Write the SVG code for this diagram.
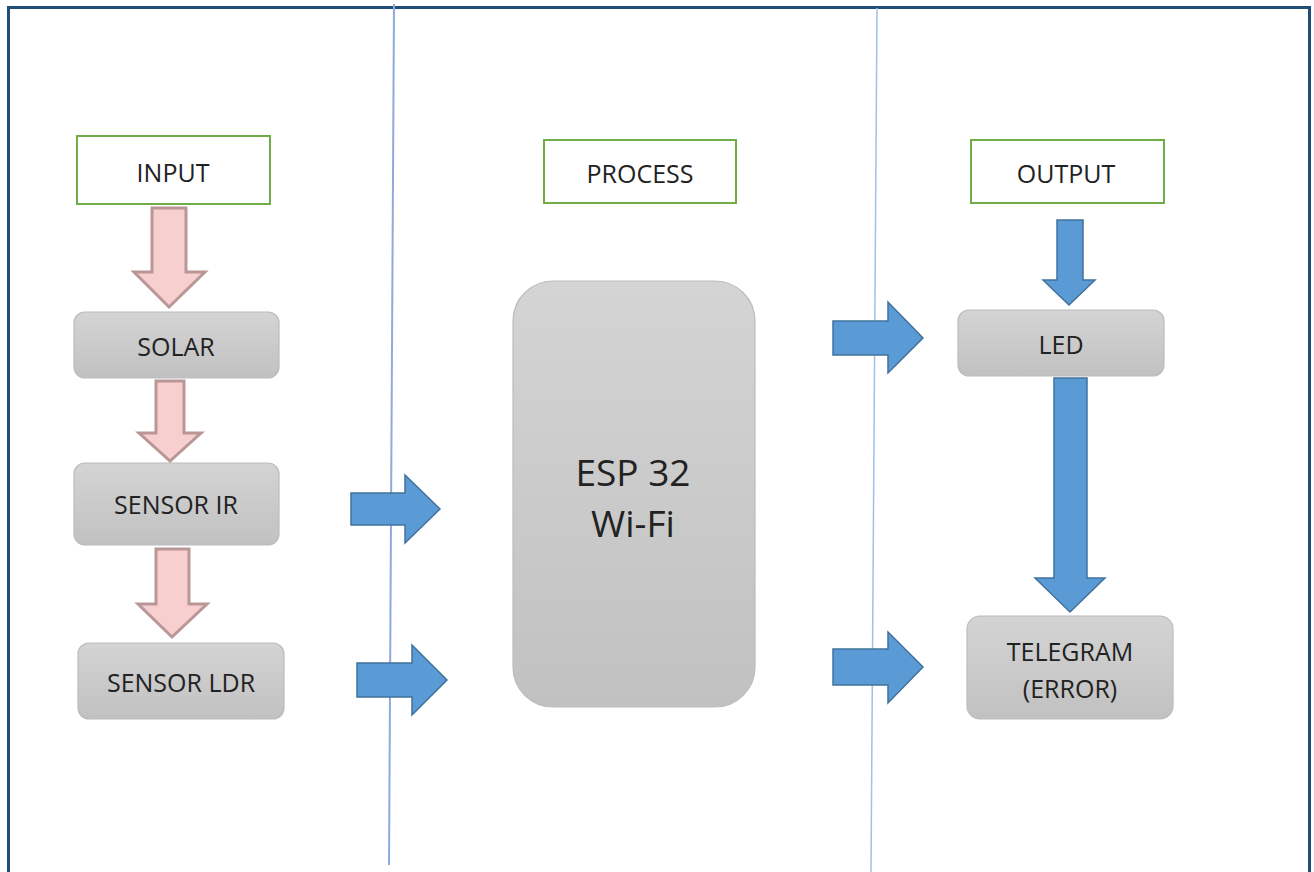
<svg xmlns="http://www.w3.org/2000/svg" width="1314" height="872" viewBox="0 0 1314 872">
<defs>
<linearGradient id="gray" x1="0" y1="0" x2="0" y2="1">
<stop offset="0" stop-color="#d4d4d4"/>
<stop offset="1" stop-color="#c1c1c1"/>
</linearGradient>
</defs>
<style>
.lbl{font-family:"Open Sans","Liberation Sans",sans-serif;font-size:25px;fill:#222222;text-anchor:middle;dominant-baseline:central}
.big{font-size:37px}
.hdr{fill:#ffffff;stroke:#70ad47;stroke-width:2}
.box{fill:url(#gray);stroke:#bcbcbc;stroke-width:1.2}
.pink{fill:#f8cfcf;stroke:#b99797;stroke-width:3;stroke-linejoin:miter}
.blue{fill:#5b9bd5;stroke:#41719c;stroke-width:1.5}
</style>
<rect width="1314" height="872" fill="#ffffff"/>
<path d="M8.5,872 V7.5 H1309.5 V872" fill="none" stroke="#1f4e79" stroke-width="3"/>
<line x1="394" y1="4" x2="389" y2="865" stroke="#8faadc" stroke-width="2"/>
<line x1="877" y1="8" x2="871" y2="872" stroke="#9dc3e6" stroke-width="1.5"/>

<g id="input"><rect class="hdr" x="77" y="136" width="193" height="68"/><text class="lbl" x="173" y="172">INPUT</text></g>
<g id="process"><rect class="hdr" x="544" y="140" width="192" height="63"/><text class="lbl" x="640" y="173">PROCESS</text></g>
<g id="output"><rect class="hdr" x="971" y="140" width="193" height="63"/><text class="lbl" x="1066" y="173">OUTPUT</text></g>

<g id="solar"><rect class="box" x="74" y="312" width="205" height="66" rx="11"/><text class="lbl" x="176" y="346">SOLAR</text></g>
<g id="sensor-ir"><rect class="box" x="74" y="463" width="205" height="82" rx="11"/><text class="lbl" x="176" y="504">SENSOR IR</text></g>
<g id="sensor-ldr"><rect class="box" x="78" y="643" width="206" height="76" rx="11"/><text class="lbl" x="181" y="682">SENSOR LDR</text></g>
<g id="esp32"><rect class="box" x="513" y="281" width="242" height="426" rx="40"/><text class="lbl big" x="633" y="471">ESP 32</text><text class="lbl big" x="633" y="522">Wi-Fi</text></g>
<g id="led"><rect class="box" x="958" y="310" width="206" height="66" rx="11"/><text class="lbl" x="1061" y="344">LED</text></g>
<g id="telegram"><rect class="box" x="967" y="616" width="206" height="103" rx="13"/><text class="lbl" x="1070" y="651">TELEGRAM</text><text class="lbl" x="1070" y="688">(ERROR)</text></g>

<g id="connectors">
<polygon class="pink" points="152,208 186,208 186,272 205,272 169,307 134,272 152,272"/>
<polygon class="pink" points="156,381 184,381 184,433 201,433 170,461 139,433 156,433"/>
<polygon class="pink" points="156,549 189,549 189,604 207,604 172,637 138,604 156,604"/>
<polygon class="blue" points="351,493 405,493 405,475 440,509 405,543 405,525 351,525"/>
<polygon class="blue" points="357,663 412,663 412,645 447,680 412,715 412,697 357,697"/>
<polygon class="blue" points="833,321 888,321 888,302 923,338 888,373 888,355 833,355"/>
<polygon class="blue" points="833,649 888,649 888,632 923,667 888,703 888,685 833,685"/>
<polygon class="blue" points="1057,220 1083,220 1083,280 1095,280 1069,305 1043,280 1057,280"/>
<polygon class="blue" points="1054,378 1087,378 1087,578 1105,578 1070,612 1035,578 1054,578"/>
</g>
</svg>
